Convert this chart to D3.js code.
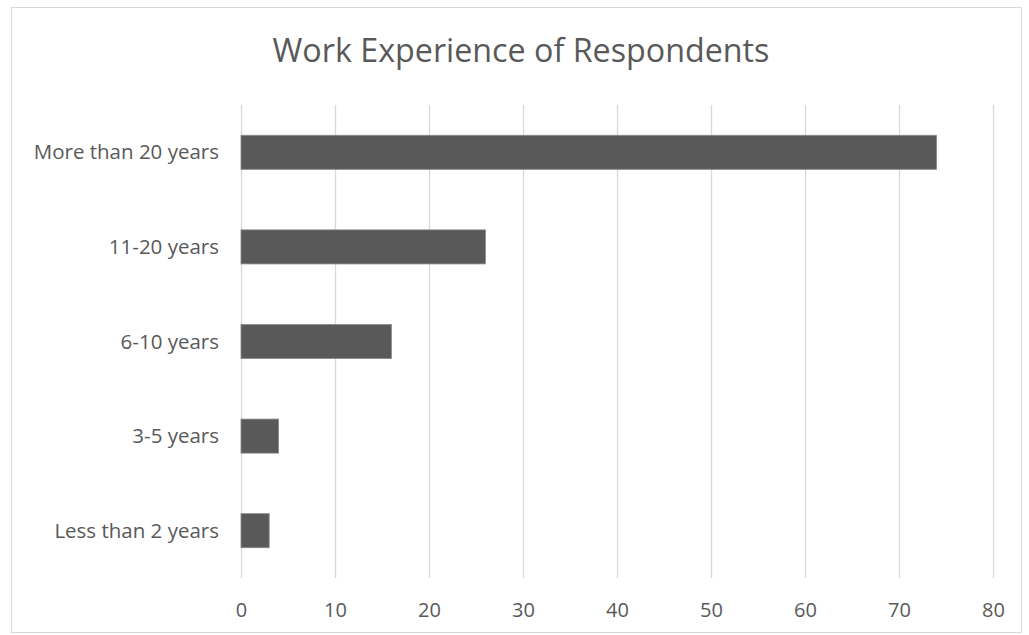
<!DOCTYPE html>
<html>
<head>
<meta charset="utf-8">
<script src="https://cdn.jsdelivr.net/npm/d3@7"></script>
<style>
  html, body { margin: 0; padding: 0; background: #fff; }
  svg { display: block; }
  text { font-family: "Open Sans", "Noto Sans", sans-serif; fill: #595959; }
</style>
</head>
<body>
<svg id="chart" width="1029" height="635"></svg>
<script>
// Respondents by years of work experience
const categories = ["More than 20 years", "11-20 years", "6-10 years", "3-5 years", "Less than 2 years"];
const counts = [74, 26, 16, 4, 3];
const xTicks = [0, 10, 20, 30, 40, 50, 60, 70, 80];
const title = "Work Experience of Respondents";

const svg = d3.select("#chart");
const W = 1029, H = 635;
const margin = { left: 241, right: 36, top: 105, bottom: 57 };

// chart frame
svg.append("rect")
  .attr("x", 11.5).attr("y", 7.5)
  .attr("width", 1010).attr("height", 625)
  .attr("fill", "#fff")
  .attr("stroke", "#d9d9d9")
  .attr("stroke-width", 1);

const x = d3.scaleLinear()
  .domain([0, 80])
  .range([margin.left, W - margin.right]);

const y = d3.scaleBand()
  .domain(categories)
  .range([margin.top, H - margin.bottom])
  .paddingInner(0.64)
  .paddingOuter(0.32);

// vertical gridlines
svg.append("g")
  .selectAll("line")
  .data(xTicks)
  .join("line")
  .attr("x1", d => Math.round(x(d)) + 0.5)
  .attr("x2", d => Math.round(x(d)) + 0.5)
  .attr("y1", margin.top)
  .attr("y2", H - margin.bottom)
  .attr("stroke", "#d9d9d9")
  .attr("stroke-width", 1.3);

// bars
svg.append("g")
  .selectAll("rect")
  .data(categories.map((c, i) => ({ c, v: counts[i] })))
  .join("rect")
  .attr("x", x(0))
  .attr("y", d => y(d.c))
  .attr("width", d => x(d.v) - x(0))
  .attr("height", y.bandwidth())
  .attr("fill", "#595959")
  .attr("stroke", "#8a8a8a")
  .attr("stroke-width", 0.8);

// x axis labels
const xAxis = d3.axisBottom(x)
  .tickValues(xTicks)
  .tickSize(0)
  .tickPadding(0)
  .tickFormat(d3.format("d"));
const gx = svg.append("g")
  .attr("transform", `translate(0,${H - margin.bottom + 39})`)
  .call(xAxis);
gx.select(".domain").remove();
gx.selectAll("text")
  .attr("dy", 0)
  .style("font-size", "20px")
  .style("fill", "#595959")
  .style("font-family", "\"Open Sans\", sans-serif");

// y axis labels
const yAxis = d3.axisLeft(y).tickSize(0).tickPadding(22);
const gy = svg.append("g")
  .attr("transform", `translate(${margin.left},0)`)
  .call(yAxis);
gy.select(".domain").remove();
gy.selectAll("text")
  .attr("dy", "0.35em")
  .style("font-size", "20.5px")
  .style("fill", "#595959")
  .style("font-family", "\"Open Sans\", sans-serif");

// title
const t = svg.append("text")
  .attr("x", 521)
  .attr("y", 62)
  .attr("text-anchor", "middle")
  .style("font-size", "28px")
  .text(title);
// fit title width to the frame layout
const targetW = 497;
const w0 = t.node().getComputedTextLength();
t.style("font-size", (28 * targetW / w0).toFixed(2) + "px");
</script>
</body>
</html>
